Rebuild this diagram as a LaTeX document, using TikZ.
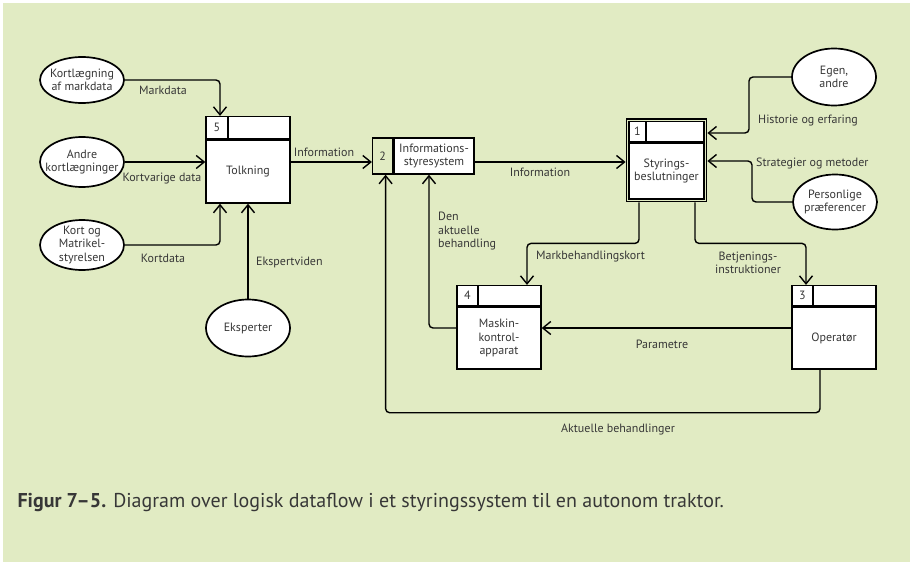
\documentclass[tikz,border=0pt]{standalone}
\usepackage{fontspec}
\setmainfont{PT Sans}
\usetikzlibrary{shapes.geometric,arrows.meta,positioning,fit}
\definecolor{bg}{RGB}{225,235,195}
\definecolor{txt}{RGB}{55,55,55}
\tikzset{
  lbl/.style={text=txt, font=\fontsize{12}{13.5}\selectfont, inner sep=1pt, align=center},
  term/.style={ellipse, draw, fill=white, line width=1.7pt, minimum width=84, minimum height=52, label={[lbl]center:{#1}}},
  procbody/.style={draw, fill=white, line width=1.4pt, minimum width=84, minimum height=62, lbl},
  prochead/.style={draw, fill=white, line width=1.4pt, minimum width=84, minimum height=20, anchor=south},
  procnum/.style={draw, line width=1.4pt, minimum width=21, minimum height=20, anchor=north west, lbl},
  flow/.style={line width=1.4pt, rounded corners=4pt, -{Straight Barb[length=8pt,width=13pt,line width=1.4pt]}},
}
\begin{document}
\begin{tikzpicture}[x=1pt, y=-1pt]
\useasboundingbox (0,0) rectangle (910,562);
\fill[white] (0,0) rectangle (910,562);
\fill[bg] (3,3) rectangle (910,562);

\node[procbody, minimum height=63] (tolk) at (248,171.5) {Tolkning};
\node[prochead, minimum height=22] (tolkh) at (tolk.north) {};
\node[procnum, minimum width=22, minimum height=22] (tolkn) at (tolkh.north west) {5};

\node[procbody, minimum width=80, minimum height=36] (info) at (434,156) {Informations-\\styresystem};
\node[procnum, minimum width=20, minimum height=36, anchor=north east] (infon) at (info.north west) {2};

\node[procbody, minimum width=75, minimum height=56] (styr) at (666.5,171) {Styrings-\\beslutninger};
\node[prochead, minimum width=75] (styrh) at (styr.north) {};
\node[procnum, minimum width=17] (styrn) at (styrh.north west) {1};
\node[draw, line width=1.4pt, fit=(styrh)(styr), inner sep=2pt] (styrf) {};

\node[procbody] (mask) at (499,338) {Maskin-\\kontrol-\\apparat};
\node[prochead] (maskh) at (mask.north) {};
\node[procnum] (maskn) at (maskh.north west) {4};

\node[procbody] (oper) at (834,338) {Operatør};
\node[prochead] (operh) at (oper.north) {};
\node[procnum] (opern) at (operh.north west) {3};

\node[term={Kortlægning\\af markdata}, minimum height=46] (kortm) at (82,80) {};
\node[term={Andre\\kortlægninger}, minimum height=50] (andre) at (82,162) {};
\node[term={Kort og\\Matrikel-\\styrelsen}, minimum height=50] (kort) at (82,245) {};
\node[term=Eksperter, minimum height=57] (eksp) at (248,328) {};
\node[term={Egen,\\andre}, minimum height=57] (egen) at (834,77) {};
\node[term={Personlige\\præferencer}, minimum height=55] (pers) at (835,202) {};

\coordinate (hbend) at (749,133);
\coordinate (sbend) at (752,161);

\draw[flow] (kortm.east) -| ([xshift=-28]tolkh.north);
\draw[flow] (andre.east) -- (andre.east -| tolk.west);
\draw[flow] (kort.east) -| ([xshift=-28]tolk.south);
\draw[flow] (eksp.north) -- (tolk.south);
\draw[flow] ([yshift=9.5]tolk.east) -- ([yshift=-6]infon.west);
\draw[flow] ([yshift=-6]info.east) -- ([yshift=-6]info.east -| styrf.west);
\draw[flow] (egen.west) -| (hbend) -- (hbend -| styrf.east);
\draw[flow] (pers.west) -| (sbend) -- (sbend -| styrf.east);
\draw[flow] ([xshift=-27.5]styrf.south) -- ++(0,41) -| ([xshift=28]maskh.north);
\draw[flow] ([xshift=28.5]styrf.south) -- ++(0,41) -| ([xshift=-28]operh.north);
\draw[flow] ([yshift=10]oper.west) -- ([yshift=10]mask.east);
\draw[flow] ([yshift=10]mask.west) -| ([xshift=-5]info.south);
\draw[flow] ([xshift=-14]oper.south) -- ++(0,43) -| ([xshift=3]infon.south);

\node[lbl] (lmark) at (163,90) {Markdata};
\node[lbl] (lkortv) at (162,179) {Kortvarige data};
\node[lbl] (lkortd) at (163,258) {Kortdata};
\node[lbl, anchor=west] (leksp) at (255,262) {Ekspertviden};
\node[lbl] (linfo) at (324,152) {Information};
\node[lbl, anchor=north west, align=left] (lden) at (437,211) {Den\\aktuelle\\behandling};
\node[lbl] (linfo2) at (540,172) {Information};
\node[lbl, anchor=west] (lhist) at (757,121) {Historie og erfaring};
\node[lbl, anchor=west] (lstrat) at (755,163) {Strategier og metoder};
\node[lbl, anchor=west] (lmarkb) at (535,257) {Markbehandlingskort};
\node[lbl] (lbetj) at (748,263) {Betjenings-\\instruktioner};
\node[lbl] (lparam) at (662,344) {Parametre};
\node[lbl] (lakt) at (618,430) {Aktuelle behandlinger};

\node[anchor=west, text=txt, font=\fontsize{20}{22}\selectfont] (cap) at (14,502) {\textbf{Figur 7–5.} Diagram over logisk dataflow i et styringssystem til en autonom traktor.};
\end{tikzpicture}
\end{document}
